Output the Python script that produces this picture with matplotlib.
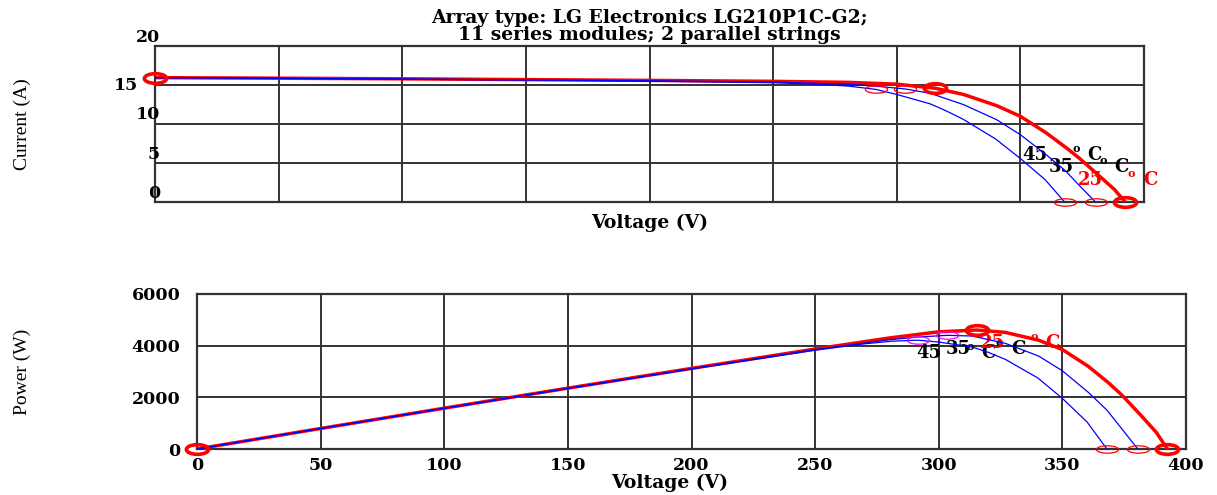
import numpy as np
import matplotlib
matplotlib.use("Agg")
import matplotlib.pyplot as plt
from matplotlib.path import Path
from matplotlib.markers import MarkerStyle
from matplotlib.transforms import Affine2D

# I-V curves (voltage in V, current in A)
v_25 = [0, 50, 100, 150, 200, 250, 280, 300, 315.5, 327, 340.4, 350, 360.5, 368.7, 374, 382, 388, 392.5]
i_25 = [15.95, 15.88, 15.80, 15.70, 15.60, 15.48, 15.35, 15.12, 14.60, 13.80, 12.37, 11.00, 8.87, 6.94, 5.60, 3.35, 1.65, 0.0]

v_35 = [0, 50, 100, 150, 200, 250, 280, 292, 303.5, 313.5, 327, 340.4, 350, 360.5, 368, 374, 380.5]
i_35 = [15.95, 15.87, 15.78, 15.67, 15.55, 15.40, 15.10, 14.85, 14.50, 13.95, 12.50, 10.57, 8.65, 6.08, 4.10, 2.10, 0.0]

v_45 = [0, 50, 100, 150, 200, 250, 270, 281, 291.5, 300, 313.5, 320, 327, 340, 350, 360, 368]
i_45 = [15.95, 15.86, 15.76, 15.64, 15.50, 15.30, 15.08, 14.85, 14.45, 13.80, 12.60, 11.70, 10.60, 8.10, 5.60, 2.90, 0.0]

# max power points and open-circuit voltages
mpp_v = {'25': 315.5, '35': 303.5, '45': 291.5}
mpp_i = {'25': 14.60, '35': 14.50, '45': 14.45}
voc = {'25': 392.5, '35': 380.5, '45': 368}

volt_ticks = [0, 50, 100, 150, 200, 250, 300, 350, 400]
cur_ticks = [0, 5, 10, 15, 20]
pow_ticks = [0, 2000, 4000, 6000]

title_lines = ["Array type: LG Electronics LG210P1C-G2;", "11 series modules; 2 parallel strings"]

RED = '#ff0000'
BLUE = '#0000ff'
MAG = '#ff00ff'
GRID = '#333333'
BOLD = dict(fontfamily='DejaVu Serif', fontweight='bold')


def ellipse_marker(ratio):
    circ = Path.unit_circle()
    return MarkerStyle(Affine2D().scale(ratio, 1).transform_path(circ))


THICK = ellipse_marker(2.3)
THIN = ellipse_marker(3.0)


def style_axes(ax, ymax, yticks):
    ax.set_xlim(0, 400)
    ax.set_ylim(0, ymax)
    ax.set_xticks(volt_ticks)
    ax.set_yticks(yticks)
    ax.grid(True, color=GRID, lw=1.4)
    ax.tick_params(length=0)
    for s in ax.spines.values():
        s.set_color(GRID)
        s.set_linewidth(1.6)
    ax.set_axisbelow(True)


def temp_label(ax, x, y, num, color):
    kw = dict(color=color, va='baseline', ha='left', textcoords='offset points', **BOLD)
    ax.annotate(num, (x, y), xytext=(0, 0), fontsize=13, **kw)
    ax.annotate('o', (x, y), xytext=(36, 5.8), fontsize=8, **kw)
    ax.annotate('C', (x, y), xytext=(47, 0), fontsize=13, **kw)


fig = plt.figure(figsize=(12.17, 4.95), dpi=100)
ax1 = fig.add_axes([155 / 1217, 1 - 202.3 / 495, 989 / 1217, 156.3 / 495])
ax2 = fig.add_axes([197 / 1217, 1 - 449 / 495, 989 / 1217, 155 / 495])

# ---- current vs voltage ----
style_axes(ax1, 20, cur_ticks)
ax1.set_xticklabels([])
ax1.set_yticklabels([])
ax1.plot(v_25, i_25, color=RED, lw=2.5, zorder=3)
ax1.plot(v_35, i_35, color=BLUE, lw=0.9, zorder=4)
ax1.plot(v_45, i_45, color=BLUE, lw=0.9, zorder=4)
for t in ['35', '45']:
    ax1.plot([mpp_v[t], voc[t]], [mpp_i[t], 0], ls='none', marker=THIN, ms=16,
             mfc='none', mec=RED, mew=0.9, zorder=5, clip_on=False)
ax1.plot([0, mpp_v['25'], voc['25']], [i_25[0], mpp_i['25'], 0], ls='none', marker=THICK,
         ms=16, mfc='none', mec=RED, mew=2.6, zorder=5, clip_on=False)

# y tick labels sit a bit off the grid lines in the original
ytr = ax1.get_yaxis_transform()
lab_x = [0.005, 0.005, 0.005, -0.017, 0.005]
lab_dy = [1.15, 1.15, 1.2, 0.0, 1.15]
for val, lx, dy in zip(cur_ticks, lab_x, lab_dy):
    ax1.text(lx, val + dy, str(val), transform=ytr, ha='right', va='center',
             fontsize=12.5, **BOLD)

ax1.set_xlabel('Voltage (V)', fontsize=13.5, labelpad=5, **BOLD)
ax1.set_ylabel('Current (A)', fontfamily='Liberation Serif', fontsize=14, va='center')
ax1.yaxis.set_label_coords(-0.1345, 0.5)
ax1.set_title('\n'.join(title_lines), fontsize=13.5, linespacing=0.95, pad=4, **BOLD)

temp_label(ax1, 350.7, 5.44, '45', 'black')
temp_label(ax1, 361.6, 3.9, '35', 'black')
temp_label(ax1, 373.3, 2.22, '25', RED)

# ---- power vs voltage ----
p_25 = np.array(v_25) * np.array(i_25)
p_35 = np.array(v_35) * np.array(i_35)
p_45 = np.array(v_45) * np.array(i_45)

style_axes(ax2, 6000, pow_ticks)
ax2.plot(v_25, p_25, color=RED, lw=2.5, zorder=3)
ax2.plot(v_35, p_35, color=BLUE, lw=0.9, zorder=4)
ax2.plot(v_45, p_45, color=BLUE, lw=0.9, zorder=4)
for t in ['35', '45']:
    ax2.plot([mpp_v[t]], [mpp_v[t] * mpp_i[t]], ls='none', marker=THIN, ms=16,
             mfc='none', mec=MAG, mew=0.9, zorder=5)
    ax2.plot([voc[t]], [0], ls='none', marker=THIN, ms=16,
             mfc='none', mec=RED, mew=0.9, zorder=5, clip_on=False)
ax2.plot([0, mpp_v['25'], voc['25']], [0, mpp_v['25'] * mpp_i['25'], 0], ls='none',
         marker=THICK, ms=16, mfc='none', mec=RED, mew=2.6, zorder=5, clip_on=False)

ax2.set_xticklabels([str(v) for v in volt_ticks], fontsize=12.5, **BOLD)
ax2.set_yticklabels([str(v) for v in pow_ticks], fontsize=12.5, **BOLD)
ax2.tick_params(axis='y', pad=12)
ax2.tick_params(axis='x', pad=6)
ax2.set_xlabel('Voltage (V)', fontsize=13.5, labelpad=2, **BOLD)
ax2.xaxis.set_label_coords(0.478, -0.16)
ax2.set_ylabel('Power (W)', fontfamily='Liberation Serif', fontsize=14, va='center')
ax2.yaxis.set_label_coords(-0.177, 0.5)

temp_label(ax2, 290.8, 3523, '45', 'black')
temp_label(ax2, 302.9, 3677, '35', 'black')
temp_label(ax2, 316.7, 3910, '25', RED)

fig.savefig('out.png', dpi=100)
